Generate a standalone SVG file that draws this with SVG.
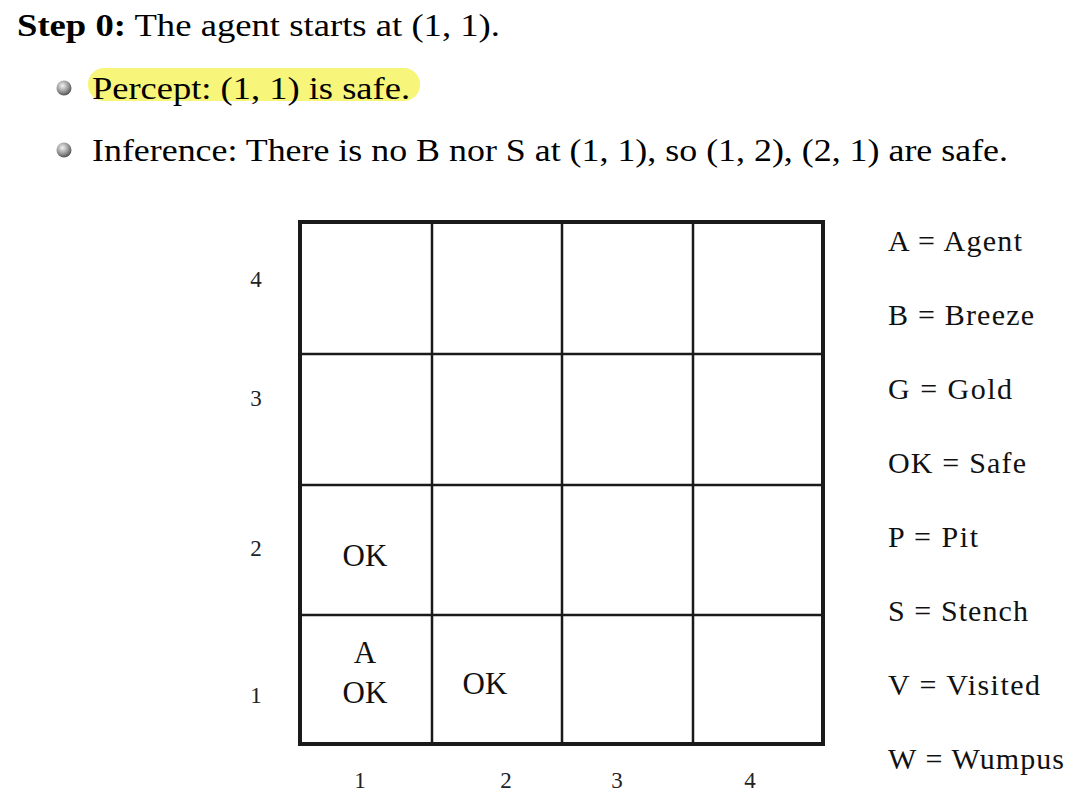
<svg xmlns="http://www.w3.org/2000/svg" width="1076" height="811" viewBox="0 0 1076 811">
<style>
.hdr{font-family:"Liberation Serif","DejaVu Serif",serif;font-size:31px;fill:#000}
.cell{font-family:"Liberation Serif",serif;font-size:31px;fill:#111;text-anchor:middle}
.ax{font-family:"Liberation Serif",serif;font-size:23px;fill:#222;text-anchor:middle}
.leg{font-family:"Liberation Serif",serif;font-size:30px;fill:#111}
.grid{stroke:#1a1a1a;stroke-width:2.5;fill:none}
</style>
<defs>
<radialGradient id="ball" cx="0.4" cy="0.35" r="0.65">
<stop offset="0" stop-color="#f2f2f2"/>
<stop offset="0.6" stop-color="#9a9a9a"/>
<stop offset="1" stop-color="#555"/>
</radialGradient>
</defs>
<rect width="1076" height="811" fill="#fff"/>
<g id="header">
<text class="hdr" x="17" y="36" textLength="483" lengthAdjust="spacingAndGlyphs"><tspan font-weight="bold">Step 0:</tspan> The agent starts at (1, 1).</text>
<rect x="88" y="68" width="332" height="33" rx="16" fill="#f7f57a"/>
<circle cx="64" cy="88" r="7.5" fill="url(#ball)"/>
<text class="hdr" x="92" y="99" textLength="318" lengthAdjust="spacingAndGlyphs">Percept: (1, 1) is safe.</text>
<circle cx="64" cy="150" r="7.5" fill="url(#ball)"/>
<text class="hdr" x="92" y="161" textLength="916" lengthAdjust="spacingAndGlyphs">Inference: There is no B nor S at (1, 1), so (1, 2), (2, 1) are safe.</text>
</g>
<g id="grid">
<rect x="300" y="222" width="523" height="522" fill="none" stroke="#1a1a1a" stroke-width="4"/>
<line class="grid" x1="432" y1="222" x2="432" y2="744"/>
<line class="grid" x1="562" y1="222" x2="562" y2="744"/>
<line class="grid" x1="693" y1="222" x2="693" y2="744"/>
<line class="grid" x1="300" y1="354" x2="823" y2="354"/>
<line class="grid" x1="300" y1="485" x2="823" y2="485"/>
<line class="grid" x1="300" y1="615" x2="823" y2="615"/>
</g>
<g id="cell-1-2"><text class="cell" x="365" y="566">OK</text></g>
<g id="cell-1-1"><text class="cell" x="365" y="663">A</text><text class="cell" x="365" y="703">OK</text></g>
<g id="cell-2-1"><text class="cell" x="485" y="694">OK</text></g>
<g id="axes">
<text class="ax" x="256" y="287">4</text>
<text class="ax" x="256" y="406">3</text>
<text class="ax" x="256" y="556">2</text>
<text class="ax" x="256" y="703">1</text>
<text class="ax" x="360" y="788">1</text>
<text class="ax" x="506" y="788">2</text>
<text class="ax" x="617" y="788">3</text>
<text class="ax" x="750" y="788">4</text>
</g>
<g id="legend">
<text class="leg" x="888" y="251" textLength="134" lengthAdjust="spacing">A = Agent</text>
<text class="leg" x="888" y="325" textLength="146" lengthAdjust="spacing">B = Breeze</text>
<text class="leg" x="888" y="399" textLength="124" lengthAdjust="spacing">G = Gold</text>
<text class="leg" x="888" y="473" textLength="138" lengthAdjust="spacing">OK = Safe</text>
<text class="leg" x="888" y="547" textLength="90" lengthAdjust="spacing">P = Pit</text>
<text class="leg" x="888" y="621" textLength="140" lengthAdjust="spacing">S = Stench</text>
<text class="leg" x="888" y="695" textLength="152" lengthAdjust="spacing">V = Visited</text>
<text class="leg" x="888" y="769" textLength="176" lengthAdjust="spacing">W = Wumpus</text>
</g>
</svg>
